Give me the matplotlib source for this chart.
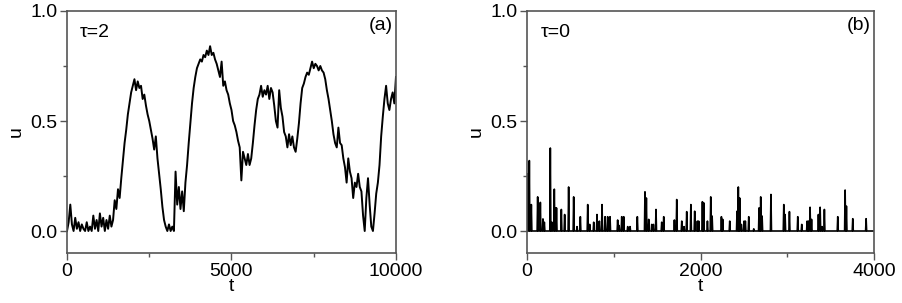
import matplotlib.pyplot as plt
import numpy as np

a_t = np.arange(0, 10001, 50)
a_u = [0.00, 0.04, 0.12, 0.03, 0.00, 0.06, 0.01, 0.04, 0.00, 0.03,
       0.01, 0.00, 0.04, 0.00, 0.02, 0.00, 0.07, 0.01, 0.05, 0.00,
       0.08, 0.02, 0.06, 0.00, 0.05, 0.01, 0.07, 0.02, 0.05, 0.14,
       0.10, 0.19, 0.15, 0.24, 0.32, 0.40, 0.46, 0.53, 0.58, 0.63,
       0.66, 0.69, 0.64, 0.68, 0.65, 0.66, 0.60, 0.62, 0.57, 0.53,
       0.50, 0.46, 0.42, 0.37, 0.43, 0.33, 0.26, 0.19, 0.11, 0.05,
       0.02, 0.00, 0.03, 0.00, 0.02, 0.00, 0.27, 0.12, 0.20, 0.10,
       0.18, 0.09, 0.22, 0.30, 0.40, 0.49, 0.58, 0.65, 0.70, 0.74,
       0.76, 0.78, 0.77, 0.80, 0.79, 0.82, 0.80, 0.84, 0.80, 0.81,
       0.78, 0.76, 0.73, 0.70, 0.77, 0.66, 0.68, 0.64, 0.62, 0.58,
       0.55, 0.50, 0.48, 0.45, 0.41, 0.38, 0.23, 0.36, 0.33, 0.30,
       0.35, 0.30, 0.33, 0.40, 0.48, 0.55, 0.60, 0.62, 0.66, 0.61,
       0.64, 0.62, 0.66, 0.60, 0.65, 0.63, 0.57, 0.50, 0.47, 0.64,
       0.56, 0.52, 0.45, 0.43, 0.38, 0.44, 0.39, 0.43, 0.38, 0.36,
       0.42, 0.49, 0.58, 0.65, 0.67, 0.70, 0.72, 0.71, 0.74, 0.77,
       0.74, 0.76, 0.75, 0.73, 0.75, 0.73, 0.72, 0.69, 0.64, 0.60,
       0.55, 0.50, 0.44, 0.40, 0.38, 0.47, 0.40, 0.39, 0.33, 0.29,
       0.22, 0.33, 0.27, 0.24, 0.15, 0.22, 0.20, 0.26, 0.20, 0.18,
       0.07, 0.00, 0.15, 0.24, 0.12, 0.02, 0.00, 0.08, 0.17, 0.22,
       0.30, 0.43, 0.52, 0.60, 0.66, 0.58, 0.55, 0.60, 0.63, 0.58,
       0.70]

# panel (b): tau=0, spike times and heights (zero in between)
b_t = [5, 27, 50, 123, 154, 184, 200, 269, 288, 315, 327, 340, 396, 434, 480,
       538, 577, 615, 700, 723, 769, 807, 834, 865, 900, 930, 957, 1045, 1062,
       1092, 1115, 1161, 1188, 1272, 1360, 1376, 1403, 1438, 1457, 1487, 1553,
       1576, 1699, 1726, 1784, 1810, 1841, 1889, 1933, 1964, 1979, 2022, 2037,
       2080, 2118, 2134, 2241, 2256, 2337, 2421, 2436, 2452, 2471, 2502, 2517,
       2556, 2614, 2675, 2694, 2710, 2812, 2960, 2975, 3025, 3121, 3167, 3229,
       3245, 3263, 3280, 3359, 3379, 3402, 3428, 3582, 3667, 3682, 3755, 3909]
b_u = [0.26, 0.32, 0.12, 0.155, 0.13, 0.055, 0.04, 0.377, 0.04, 0.19, 0.105,
       0.105, 0.098, 0.075, 0.2, 0.155, 0.02, 0.065, 0.12, 0.03, 0.04, 0.075,
       0.045, 0.12, 0.065, 0.065, 0.065, 0.05, 0.025, 0.065, 0.065, 0.02, 0.02,
       0.065, 0.178, 0.15, 0.053, 0.03, 0.03, 0.098, 0.04, 0.065, 0.05, 0.143,
       0.045, 0.02, 0.088, 0.12, 0.09, 0.045, 0.045, 0.133, 0.128, 0.045,
       0.155, 0.068, 0.065, 0.053, 0.045, 0.09, 0.2, 0.15, 0.03, 0.045, 0.045,
       0.065, 0.01, 0.105, 0.155, 0.068, 0.166, 0.12, 0.075, 0.088, 0.065,
       0.03, 0.045, 0.045, 0.108, 0.053, 0.075, 0.108, 0.02, 0.098, 0.065,
       0.186, 0.113, 0.056, 0.056]

hw = 6
bt = [0]
bu = [0]
for t, u in zip(b_t, b_u):
    bt += [max(t - hw, 0), t, t + hw]
    bu += [0, u, 0]
bt.append(4000)
bu.append(0)

plt.rcParams['font.family'] = ['Liberation Sans', 'DejaVu Sans']
plt.rcParams['font.size'] = 14

fig = plt.figure(figsize=(9.03, 3.03), dpi=100)
ax1 = fig.add_axes([0.0742, 0.165, 0.3643, 0.7987])
ax2 = fig.add_axes([0.5836, 0.165, 0.3843, 0.7987])

ax1.plot(a_t, a_u, color='black', lw=1.4)
ax2.plot(bt, bu, color='black', lw=1.2)

for ax, xmax, xt, xm, tau, lab in [
        (ax1, 10000, [0, 5000, 10000], [2500, 7500], 'τ=2', '(a)'),
        (ax2, 4000, [0, 2000, 4000], [1000, 3000], 'τ=0', '(b)')]:
    ax.set_xlim(0, xmax)
    ax.set_ylim(-0.1, 1.0)
    ax.set_xticks(xt)
    ax.set_xticks(xm, minor=True)
    ax.set_yticks([0.0, 0.5, 1.0])
    ax.set_yticklabels(['0.0', '0.5', '1.0'])
    ax.set_yticks([0.25, 0.75], minor=True)
    ax.tick_params(which='both', direction='out', color='#555555', width=1)
    ax.tick_params(which='major', length=5, pad=2)
    ax.tick_params(which='minor', length=3)
    for s in ax.spines.values():
        s.set_color('#555555')
        s.set_linewidth(1.2)
    ax.set_xlabel('t', labelpad=-1)
    ax.set_ylabel('u', labelpad=4)
    ax.text(0.04, 0.91, tau, transform=ax.transAxes, fontsize=14, va='center')
    ax.text(0.99, 0.94, lab, transform=ax.transAxes, fontsize=14,
            va='center', ha='right')

fig.savefig('out.png', dpi=100)
